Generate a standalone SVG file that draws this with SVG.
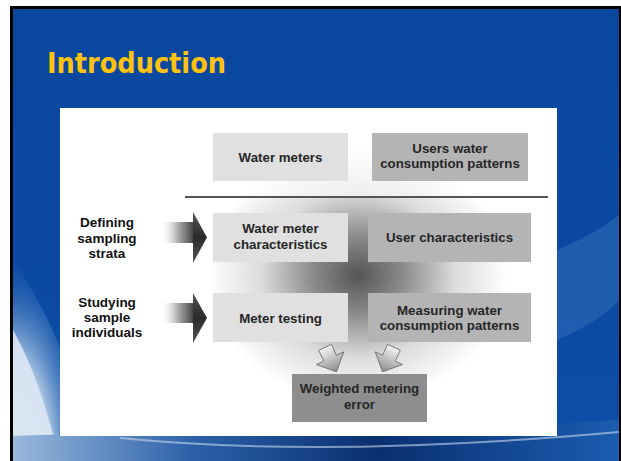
<svg xmlns="http://www.w3.org/2000/svg" width="621" height="461" viewBox="0 0 621 461">
  <defs>
    <linearGradient id="slideBg" x1="0" y1="0" x2="0" y2="1">
      <stop offset="0" stop-color="#0a48a0"/>
      <stop offset="0.6" stop-color="#0b4aa3"/>
      <stop offset="1" stop-color="#0d4fa8"/>
    </linearGradient>
    <radialGradient id="splash" cx="0" cy="1" r="1">
      <stop offset="0" stop-color="#e8f0f8"/>
      <stop offset="0.5" stop-color="#b8cfe8"/>
      <stop offset="1" stop-color="#3a78c0" stop-opacity="0"/>
    </radialGradient>
    <linearGradient id="swoosh" x1="0" y1="0" x2="1" y2="0">
      <stop offset="0" stop-color="#9ab8dc"/>
      <stop offset="0.3" stop-color="#2a60a8"/>
      <stop offset="0.6" stop-color="#0a2f70"/>
      <stop offset="1" stop-color="#1b5db0"/>
    </linearGradient>
    <radialGradient id="shade" cx="358" cy="275" r="150" gradientUnits="userSpaceOnUse" gradientTransform="translate(358 275) scale(1 0.85) translate(-358 -275)">
      <stop offset="0" stop-color="#555"/>
      <stop offset="0.3" stop-color="#8a8a8a"/>
      <stop offset="0.65" stop-color="#dcdcdc"/>
      <stop offset="1" stop-color="#fff"/>
    </radialGradient>
    <linearGradient id="bigArrowBody" x1="0" y1="0" x2="1" y2="0">
      <stop offset="0" stop-color="#fff" stop-opacity="0"/>
      <stop offset="0.5" stop-color="#b0b0b0"/>
      <stop offset="1" stop-color="#3a3a3a"/>
    </linearGradient>
    <linearGradient id="bigArrowHead" x1="0" y1="0" x2="0" y2="1">
      <stop offset="0" stop-color="#555"/>
      <stop offset="0.5" stop-color="#2a2a2a"/>
      <stop offset="1" stop-color="#555"/>
    </linearGradient>
    <linearGradient id="smallArrow" x1="0" y1="0" x2="0" y2="1">
      <stop offset="0" stop-color="#f4f4f4"/>
      <stop offset="1" stop-color="#8a8a8a"/>
    </linearGradient>
    <path id="downArrow" d="M-7,-14 L7,-14 L7,-2 L15,-2 L0,13 L-15,-2 L-7,-2 Z"/>
    <style>
      .box-light { fill: #e0e0e0; }
      .box-mid { fill: #b4b4b4; }
      .box-dark { fill: #8e8e8e; }
      .lbl { font-family: "Liberation Sans", Arial, sans-serif; font-weight: bold; font-size: 13.3px; fill: #262626; text-anchor: middle; }
      .side { font-family: "Liberation Sans", Arial, sans-serif; font-weight: bold; font-size: 13.5px; fill: #111; text-anchor: middle; }
      .title { font-family: "DejaVu Sans", "Liberation Sans", sans-serif; font-weight: bold; font-size: 28px; fill: #ffc20e; }
    </style>
  </defs>

  <!-- slide frame and background -->
  <rect x="0" y="0" width="621" height="461" fill="#fff"/>
  <rect x="10" y="6" width="611" height="455" fill="#000"/>
  <rect x="13" y="9" width="606" height="452" fill="url(#slideBg)"/>
  <path d="M13,260 C40,300 60,340 70,380 L90,461 L13,461 Z" fill="url(#splash)" opacity="0.9"/>
  <path d="M13,330 C30,360 45,400 60,461 L13,461 Z" fill="#dfe9f5" opacity="0.85"/>
  <path d="M557,250 C580,240 600,230 619,215 L619,300 C600,320 580,330 557,340 Z" fill="#2d6bb8" opacity="0.6"/>
  <path d="M13,436 C150,430 300,440 619,420 L619,461 L13,461 Z" fill="url(#swoosh)"/>
  <path d="M120,438 C260,452 420,450 619,432" fill="none" stroke="#c9d9ee" stroke-width="2" opacity="0.6"/>

  <text class="title" x="47" y="73" textLength="179" lengthAdjust="spacingAndGlyphs">Introduction</text>

  <!-- white panel -->
  <rect x="60" y="108" width="497" height="328" fill="#fff"/>
  <rect x="170" y="150" width="387" height="280" fill="url(#shade)"/>
  <rect x="170" y="120" width="387" height="77" fill="#fff" opacity="0.55"/>

  <!-- connectors -->
  <g id="connectors">
    <line x1="185" y1="197" x2="548" y2="197" stroke="#555" stroke-width="2"/>
    <g id="arrow-row2">
      <rect x="160" y="222" width="35" height="21" fill="url(#bigArrowBody)"/>
      <path d="M193,212 L207,237.5 L193,263 Z" fill="url(#bigArrowHead)"/>
    </g>
    <g id="arrow-row3">
      <rect x="160" y="303" width="35" height="20" fill="url(#bigArrowBody)"/>
      <path d="M193,293 L207,318 L193,343 Z" fill="url(#bigArrowHead)"/>
    </g>
    <use href="#downArrow" transform="translate(331 360) rotate(-25)" fill="url(#smallArrow)" stroke="#6a6a6a" stroke-width="0.8"/>
    <use href="#downArrow" transform="translate(388 360) rotate(25)" fill="url(#smallArrow)" stroke="#6a6a6a" stroke-width="0.8"/>
  </g>

  <!-- side labels -->
  <g id="label-defining">
    <text class="side" x="107" y="227">Defining</text>
    <text class="side" x="107" y="243">sampling</text>
    <text class="side" x="107" y="258">strata</text>
  </g>
  <g id="label-studying">
    <text class="side" x="107" y="307">Studying</text>
    <text class="side" x="107" y="322">sample</text>
    <text class="side" x="107" y="337">individuals</text>
  </g>

  <!-- nodes -->
  <g id="water-meters">
    <rect class="box-light" x="213" y="133" width="135" height="48"/>
    <text class="lbl" x="280.5" y="162">Water meters</text>
  </g>
  <g id="users-patterns">
    <rect class="box-mid" x="372" y="133" width="156" height="48"/>
    <text class="lbl" x="450" y="153">Users water</text>
    <text class="lbl" x="450" y="168">consumption patterns</text>
  </g>
  <g id="meter-characteristics">
    <rect class="box-light" x="213" y="213" width="135" height="49"/>
    <text class="lbl" x="280.5" y="233">Water meter</text>
    <text class="lbl" x="280.5" y="249">characteristics</text>
  </g>
  <g id="user-characteristics">
    <rect class="box-mid" x="368" y="213" width="163" height="49"/>
    <text class="lbl" x="449.5" y="242">User characteristics</text>
  </g>
  <g id="meter-testing">
    <rect class="box-light" x="213" y="293" width="135" height="49"/>
    <text class="lbl" x="280.5" y="323">Meter testing</text>
  </g>
  <g id="measuring-patterns">
    <rect class="box-mid" x="368" y="293" width="163" height="49"/>
    <text class="lbl" x="449.5" y="315">Measuring water</text>
    <text class="lbl" x="449.5" y="330">consumption patterns</text>
  </g>
  <g id="weighted-error">
    <rect class="box-dark" x="292" y="374" width="135" height="48"/>
    <text class="lbl" x="359.5" y="393">Weighted metering</text>
    <text class="lbl" x="359.5" y="409">error</text>
  </g>
</svg>
